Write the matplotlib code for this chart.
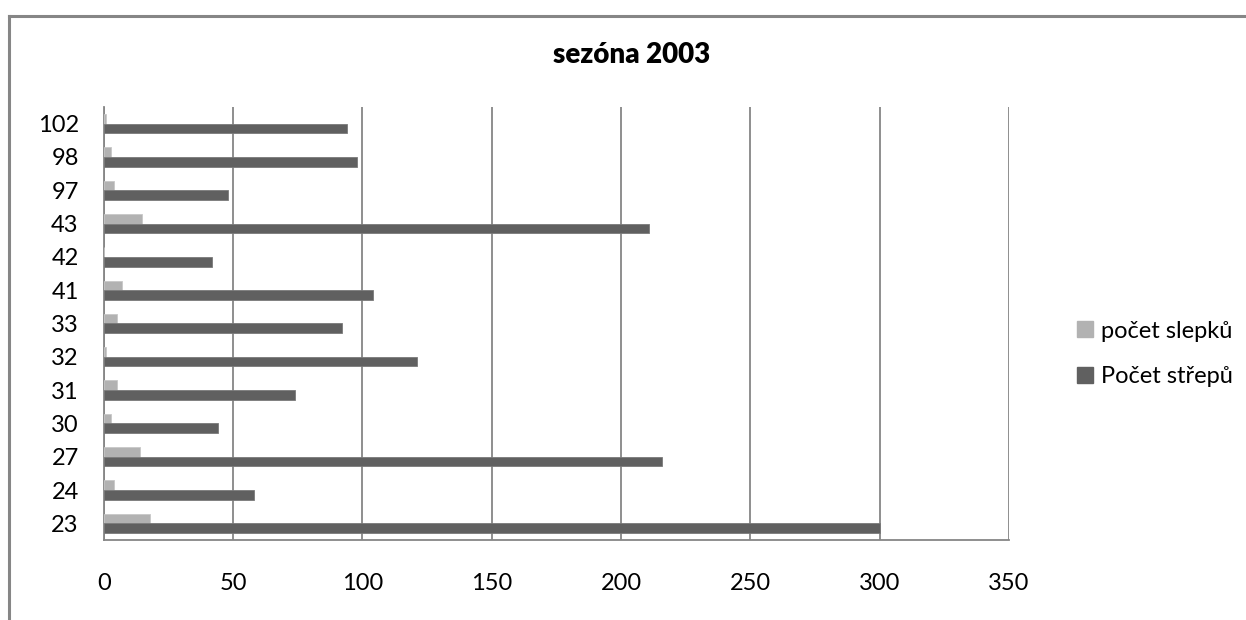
import matplotlib
matplotlib.use("Agg")
import matplotlib.pyplot as plt
from matplotlib.patches import Patch
from matplotlib.lines import Line2D
import numpy as np

plt.rcParams['font.family'] = ['Lato', 'DejaVu Sans']

categories = ["23", "24", "27", "30", "31", "32", "33", "41", "42", "43", "97", "98", "102"]
pocet_slepku = [18, 4, 14, 3, 5, 1, 5, 7, 0, 15, 4, 3, 1]
pocet_strepu = [300, 58, 216, 44, 74, 121, 92, 104, 42, 211, 48, 98, 94]
x_ticks = [0, 50, 100, 150, 200, 250, 300, 350]

W, H = 1246, 620
fig = plt.figure(figsize=(W / 100, H / 100), dpi=100)
fig.patch.set_facecolor("white")

left, right, top, bottom = 103.7, 1009, 107, 540
ax = fig.add_axes([left / W, 1 - bottom / H, (right - left) / W, (bottom - top) / H])

light = "#b2b2b2"
dark = "#606060"
grid_c = "#868686"

y = np.arange(len(categories))
h = 0.29
ax.barh(y + h / 2, pocet_slepku, height=h, color=light, edgecolor="#c8c8c8", linewidth=0.6, zorder=3)
ax.barh(y - h / 2, pocet_strepu, height=h, color=dark, edgecolor="#7a7a7a", linewidth=0.6, zorder=3)

ax.set_xlim(0, 350)
ax.set_ylim(-0.5, len(categories) - 0.5)
ax.set_xticks(x_ticks)
ax.set_xticklabels([str(t) for t in x_ticks])
ax.set_yticks(y)
ax.set_yticklabels(categories)
ax.tick_params(axis="both", length=0, labelsize=17, colors="black")
ax.tick_params(axis="y", pad=18)
ax.tick_params(axis="x", pad=24)

ax.grid(axis="x", color=grid_c, linewidth=1.3, zorder=1)
for s in ["top", "right"]:
    ax.spines[s].set_visible(False)
for s in ["left", "bottom"]:
    ax.spines[s].set_color(grid_c)
    ax.spines[s].set_linewidth(1.3)

fig.text(632 / W, 1 - 55 / H, "sezóna 2003", ha="center", va="center",
         fontsize=20, fontweight="heavy")

handles = [Patch(facecolor=light, edgecolor=light), Patch(facecolor=dark, edgecolor=dark)]
fig.legend(handles, ["počet slepků", "Počet střepů"], loc="center left",
           bbox_to_anchor=(1056 / W, 1 - 354 / H), frameon=False, fontsize=17,
           handlelength=0.65, handleheight=0.65, handletextpad=0.35, labelspacing=1.05)

# outer chart frame
fig.add_artist(Line2D([9 / W, 9 / W], [0, 1 - 16 / H], color=grid_c, linewidth=2.2))
fig.add_artist(Line2D([9 / W, 1], [1 - 16 / H, 1 - 16 / H], color=grid_c, linewidth=2.2))

fig.savefig("out.png", dpi=100, facecolor="white")
